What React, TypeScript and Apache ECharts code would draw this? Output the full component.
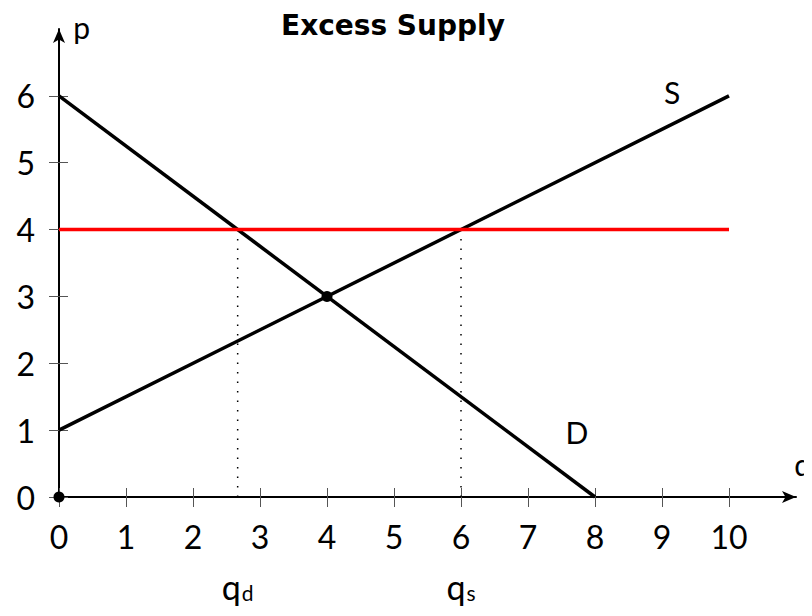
import React, { useEffect, useRef } from "react";
import * as echarts from "echarts";

const xTicks = [0, 1, 2, 3, 4, 5, 6, 7, 8, 9, 10];
const yTicks = [0, 1, 2, 3, 4, 5, 6];
const demand = [[0, 6], [8, 0]];
const supply = [[0, 1], [10, 6]];
const priceFloor = [[0, 4], [10, 4]];
const qdLine = [[8 / 3, 0], [8 / 3, 4]];
const qsLine = [[6, 0], [6, 4]];
const dots = [[0, 0], [4, 3]];
const curveLabels = [
  { name: "S", value: [9.15, 6.06] },
  { name: "D", value: [7.73, 0.97] },
  { name: "p", value: [0.34, 7.03] },
  { name: "q", value: [11.1, 0.5] },
];
const qLabels = [
  { name: "{q|q}{sub|d}", value: [8 / 3, -1.33] },
  { name: "{q|q}{sub|s}", value: [6, -1.33] },
];

const FONT = "Lato";

export default function App() {
  const ref = useRef<HTMLDivElement>(null);
  useEffect(() => {
    const chart = echarts.init(ref.current!, null, { renderer: "svg" });
    const tickStyle = { color: "#555", width: 1 };
    const axisLine = { show: true, onZero: false, lineStyle: { color: "#000", width: 2 }, symbol: ["none", "arrow"], symbolSize: [9, 14] };
    chart.setOption({
      animation: false,
      title: {
        text: "Excess Supply",
        left: 268,
        top: -2,
        textStyle: { fontFamily: "DejaVu Sans", fontWeight: "bold", fontSize: 28, color: "#000" },
      },
      grid: { left: 51, right: 16, top: 21, bottom: 119, containLabel: false },
      xAxis: [
        {
          type: "value",
          min: 0,
          max: 11,
          interval: 1,
          splitLine: { show: false },
          axisLine,
          axisTick: { show: true, length: 10, customValues: xTicks, lineStyle: tickStyle },
          axisLabel: { customValues: xTicks, fontFamily: FONT, fontSize: 32, color: "#000", margin: 23 },
        },
        {
          type: "value",
          position: "bottom",
          min: 0,
          max: 11,
          interval: 1,
          splitLine: { show: false },
          axisLine: { show: false },
          axisTick: { show: true, inside: true, length: 9, customValues: xTicks, lineStyle: tickStyle },
          axisLabel: { show: false },
        },
      ],
      yAxis: [
        {
          type: "value",
          min: 0,
          max: 7,
          interval: 1,
          splitLine: { show: false },
          axisLine,
          axisTick: { show: true, length: 10, customValues: yTicks, lineStyle: tickStyle },
          axisLabel: { customValues: yTicks, fontFamily: FONT, fontSize: 32, color: "#000", margin: 24 },
        },
        {
          type: "value",
          position: "left",
          min: 0,
          max: 7,
          interval: 1,
          splitLine: { show: false },
          axisLine: { show: false },
          axisTick: { show: true, inside: true, length: 9, customValues: yTicks, lineStyle: tickStyle },
          axisLabel: { show: false },
        },
      ],
      series: [
        { type: "line", data: qdLine, symbol: "none", lineStyle: { color: "#000", width: 1.5, type: [1.5, 8] } },
        { type: "line", data: qsLine, symbol: "none", lineStyle: { color: "#000", width: 1.5, type: [1.5, 8] } },
        { type: "line", data: demand, symbol: "none", lineStyle: { color: "#000", width: 3.5 } },
        { type: "line", data: supply, symbol: "none", lineStyle: { color: "#000", width: 3.5 } },
        { type: "line", data: priceFloor, symbol: "none", lineStyle: { color: "#ff0000", width: 3.5 } },
        { type: "scatter", data: dots, symbol: "circle", symbolSize: 11, itemStyle: { color: "#000", opacity: 1 }, z: 5 },
        {
          type: "scatter",
          data: curveLabels,
          symbolSize: 0,
          clip: false,
          itemStyle: { opacity: 1, color: "#000" },
          label: { show: true, position: "inside", formatter: "{b}", fontFamily: FONT, fontSize: 30, color: "#000", opacity: 1 },
        },
        {
          type: "scatter",
          data: qLabels,
          symbolSize: 0,
          clip: false,
          itemStyle: { opacity: 1, color: "#000" },
          label: {
            show: true,
            position: "inside",
            formatter: "{b}",
            opacity: 1,
            rich: {
              q: { fontFamily: FONT, fontSize: 34, color: "#000", verticalAlign: "bottom" },
              sub: { fontFamily: FONT, fontSize: 21, color: "#000", padding: [14, 0, 0, 1] },
            },
          },
        },
      ],
    });
    return () => chart.dispose();
  }, []);
  return <div ref={ref} style={{ width: 804, height: 608 }} />;
}
